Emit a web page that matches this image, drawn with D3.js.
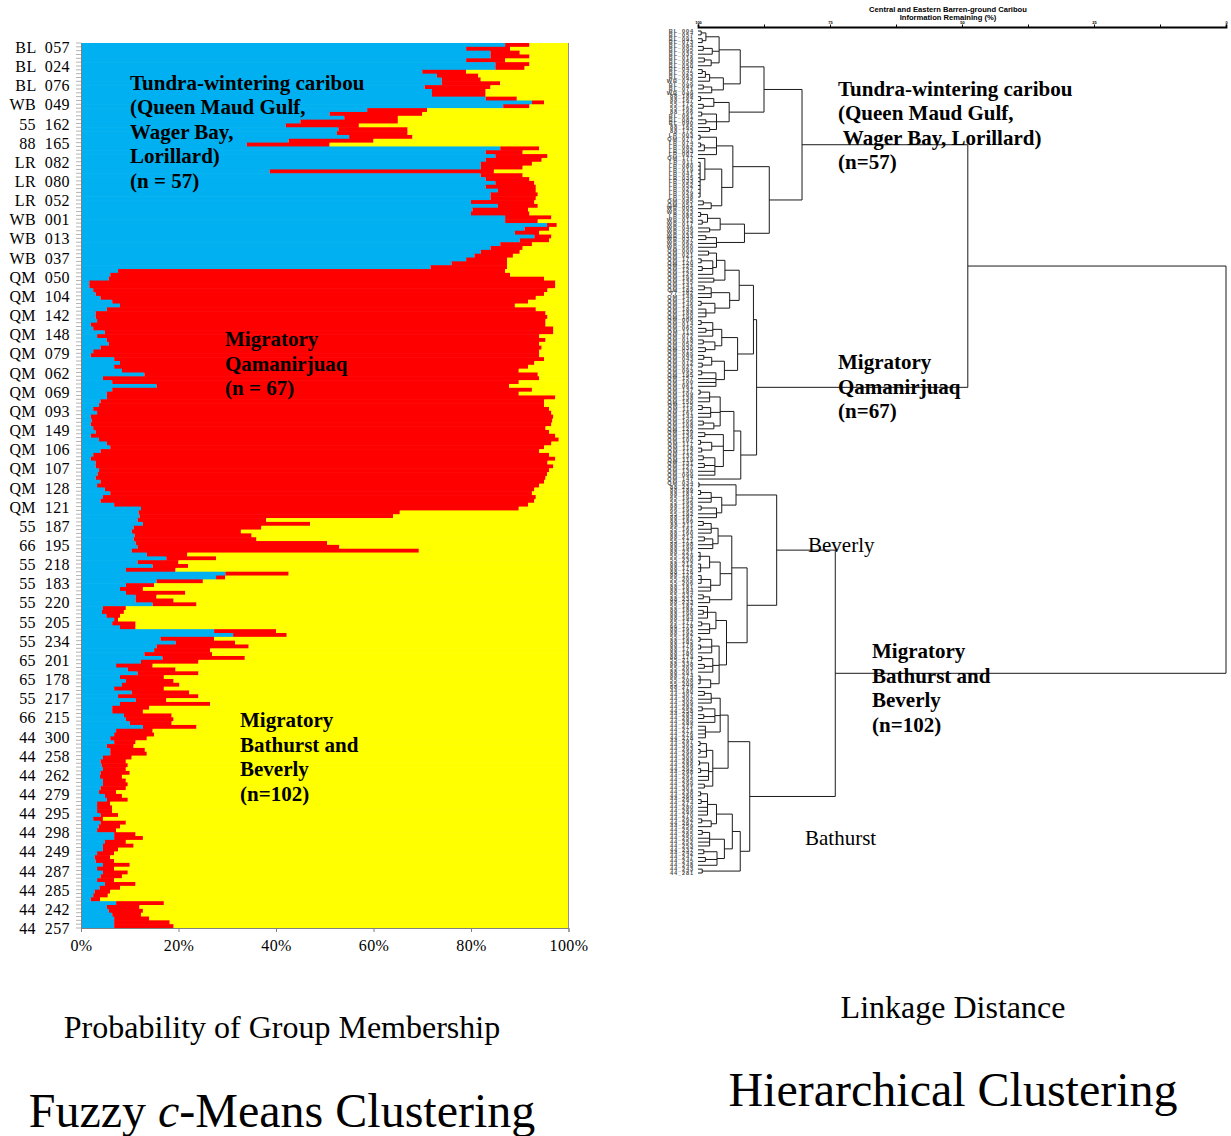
<!DOCTYPE html>
<html><head><meta charset="utf-8">
<script src="https://cdn.jsdelivr.net/npm/d3@7"></script>
<style>body{margin:0;background:#fff;}svg{display:block;}text{white-space:pre;}</style>
</head><body>
<svg id="c" width="1231" height="1136"></svg>
<script>
// ---------------- DATA: fuzzy c-means membership (cumulative boundaries, %) ----------------
const rowLabels = ["BL  057","BL  024","BL  076","WB  049","55  162","88  165","LR  082","LR  080","LR  052","WB  001","WB  013","WB  037",
 "QM  050","QM  104","QM  142","QM  148","QM  079","QM  062","QM  069","QM  093","QM  149","QM  106","QM  107","QM  128","QM  121",
 "55  187","66  195","55  218","55  183","55  220","55  205","55  234","65  201","65  178","55  217","66  215",
 "44  300","44  258","44  262","44  279","44  295","44  298","44  249","44  287","44  285","44  242","44  257"];
const labelEvery = 5;
const xTicks = [0,20,40,60,80,100];
const groupKeys = ["tundra","qamanirjuaq","bathurstBeverly"];
const groupColors = ["#00b0f0","#ff0000","#ffff00"];
// end of blue segment (tundra-wintering membership)
const blueTo = [
 87,79,84,84,79,85,85, 70,73,74,74,70.5,72,72,83,92.5,86.6,
 58.7,51,54,45,42,52.8,52.5,55,42.6,34,
 86,83,85,83,82,82,38.7,82,83,85,83,85.5,84,84,80,85.5,80.3,80,87,87,95.6,91,89,93,90,86,84,82,80.7,79,76,71.7,
 7.6,6,5.7,1.7,1.7,2.5,3,4,6.4,8, 5.3,3,3,3.3,2,2.5,4.9,3.3,5.3,5.7, 4,
 2.5,2,6.8,8,6.8,8.4,13,4.5,6.4,15.5, 6.4,5.3,5.3,4,3.7,2.5,3.3,2, 2.2,
 2,2.5,3,2,3.7,5.3,6,4,2.5,2,3,3,3.7, 3.4, 3,4,3.3,4.9,6,4.5,4,6.8,12.3,11.8,
 12,11.6,12.7,10.8,10.4,11,10.8,11.2,11.6,10.4, 13.5,17.5,11.6,14.7,9.2,29.6,27.7,15.5,9.2,8,
 9.2,11.2,11.2,14.7,4.5,4.3,5.2,6.8,6.4,8, 27.3,31.2,16.3,19.4,15.5,15,13,16.7,12.3,7.2,
 9.6,11.6,8,9.2,8.4,6.8,10.4,7.6,11.2,8, 6.4,6.4,8.8,9.2,10,
 12.7,7.2,6.8,6,6.8,5.3,6,6,4.5,4, 4.2, 4.5,4,3.9,4.5,4.5,4,3.7,4.9,5.3,3.3,3.3,3.3,4,2.5,4, 3.6,
 3.3,6.8,6.8,4.9,4.5,4.5,3.3,2.8,3,4.5,3.3,4.5,4,3.3,4.9, 3.8, 2.8,2.5,2,7.2,5.3,5.7,6.4,6.8,6.8,6.8];
// end of red segment (tundra + Qamanirjuaq membership)
const redTo = [
 92,88,90,92,87,92,91, 79,81.5,82,86,84,83,83,89.4,95,92,
 71,70,65,65,57,67,67,68,60,51,
 94,90.6,95.7,94.5,92.5,90.6,84.7,90.6,92,93,93.3,93.3,93.7,93.3,93,93.7,91.7,92,96.5,93.7,97.6,96,94,96.5,96,92.5,90.6,90,88.6,87.4,87.4,87.4,
 87,88,95,97.3,97.3,95.7,95,93.3,91.7,89, 93.3,95.3,95.7,95.3,95.3,96.9,96.9,94,95.3,94, 94.5,
 94,94,95,93,91.7,89.8,93.7,94,89.8,87.8, 92.5,89.8,97.3,95,95,96,96.5,96.9, 96.7,
 96.5,95.3,96,97.3,98,96.5,95,94,96,97.3,95.7,96.9,96, 95.6, 95.3,95,94,93,92.5,93.3,93,91.7,89.8,65.4,
 64,38,47,37,32.8,35,36,50.5,53,69.3, 21.8,27.7,20,22,19.4,42.6,29.6,25,15,12.7,
 21.4,15.5,19,23.7,9.2,8.8,8,7.6,11.2,11.2, 40,42.2,27.3,31.6,34.4,26.5,26.9,33.6,24.1,14.7,
 19.4,24.1,17,19,20.2,17,22.2,24.1,17.5,26.5, 14,12.7,18.6,19,18.6,
 23.7,14.7,15,13.5,11.2,10.8,13.1,13.5,10.4,9.2, 9.6, 9.2,10,8.4,9.2,9.6,9.2,7.2,8.4,9.6,6,6.4,6.4,7.6,4.5,9.2, 8,
 7.2,11.2,12.7,9.2,10.8,7.6,6.8,6,6.8,10,6.8,9.6,8.4,6.8,11.2, 8, 6,5.5,3.9,17,12,12.7,12.3,14,18.2,19];

// ---------------- DATA: dendrogram (node = [information remaining %, ...children], leaf = label) ----------------
const blGroup = [92,
  [96,[98.5,[99.4,"BL_004","BL_057"],[99.2,"BL_091","BL_073"]],[97.3,[99,"BL_084","BL_095"],"BL_035"],[97.5,[98.8,"BL_016","BL_058"],"BL_050"]],
  [95.2,[97.8,[98.6,[99.2,"BL_047","BL_025"],"BL_063"],"WB_075"],[97.4,[99,"BL_099","BL_071"],"WB_049"]]];
const g88Group = [94.1,[97,[99.5,"88_189","88_167"],[99,"55_172","55_162"]],[96.5,[99.3,"88_166","BL_061"],[98.5,"BL_087","BL_090"],[97.8,"88_165","88_172"]]];
const lrGroup = [93.4,[96.5,[99.6,"LR_003","QM_077"],[98.8,[99.5,"LR_074","LR_082"],"LR_093"],"LR_007"],
  [95.5,[98.7,"QM_177",[99.6,"LR_011","LR_080","LR_019","LR_041","LR_035","LR_033","LR_052","LR_027","LR_029","LR_048"]],[97.5,[99,"QM_085","QM_051"],"WB_005"]]];
const wbGroup = [91.2,[95.8,[98.2,[99.5,"WB_023","LR_085"],[99.2,"WB_013","WB_017"]],[97.8,"WB_046","WB_029"]],[96.5,[98.5,"WB_033","WB_037"],"WB_062","WB_060"]];
const qmUpper1 = [92.2,[94.9,[96.5,[98,"QM_000","QM_021"],[97.2,[99.4,"QM_171","QM_120"],[99.2,"QM_124","QM_125"],"QM_129"]],[97,"QM_193","QM_135"]],
  [94,[97.5,[98.8,"QM_141","QM_182"],"77_182","QM_148"],[96.8,[99.4,"QM_140","QM_146"],[98.5,"QM_183","QM_188","QM_190"]]]];
const qmUpper2 = [92.5,[95.5,[97.2,[99.4,"QM_006","QM_014"],[98.5,"QM_065","QM_113"],"QM_072"],[96.8,[99,"QM_018","QM_052"],[98.6,"QM_030","QM_015"]]],
  [95,[97.4,[98.9,"QM_089","QM_043"],[99.2,"QM_012","QM_027"]],[96.6,[99.3,"QM_093","QM_195"],"QM_157","QM_100","QM_061"]]];
const qmLower = [91.9,[93.2,[95.8,[97.8,[99.6,"QM_137","QM_109"],"QM_138","QM_150"],[97.6,[99.2,"QM_115","QM_116"],"QM_161","QM_144"],[97,[99,"QM_106","QM_108"],"QM_122"]],
  [95.2,[98.7,"QM_139","QM_136"],[97.4,[99.5,"QM_107","QM_117"],[99.3,"QM_118","QM_112"]],[96.8,[99,"QM_132","QM_119"],[98.8,"QM_131","QM_127"],"QM_130","QM_099"]]],"QM_147"];
const bevTop = [92.8,[99.8,"QM_034","88_237"],[95.5,[97.5,[99.5,"88_189","88_187"],"65_194","55_196"],[96.5,[99.4,"88_193","66_195"],"55_192","88_197"]]];
const bevB1 = [93.6,[96.2,[97.5,[99,"88_186","88_211"],"55_161","88_160"],[97.2,[98.8,"88_214","55_171"],"88_198","88_199"]],
  [95.8,[97.8,[99.6,"88_221","55_229","55_230"],[99.5,"88_212","88_175","88_176"]],[97.6,[99.4,"88_122","55_205","55_206"],"88_181","88_184"]],[97.8,[99,"55_232","88_231"],"88_233"]];
const bevB2 = [94.6,[96.6,[98.2,"55_187",[99,"88_188","88_190"],"88_194"],[97.8,[99.3,"65_177","66_178"],"88_191","88_192"]],
  [96,[97.4,[99.6,"55_167","88_185"],[99.5,"88_178","88_179"],"88_180"],[97.2,[99.3,"88_174","55_217"],[98.8,"88_338","55_203"],"88_201"],[97.6,[99.6,"88_274","55_208","55_209"],"88_279"]]];
const bathTop = [94.3,[95.8,[97.5,[98.8,"44_180","44_307"],"44_302","44_309"],[96.8,[99.2,"44_282","44_258"],[98.9,"44_283","44_284"],"44_289"],[98.6,"44_272","44_271","44_276","44_278"]],
  [97.2,[98.4,[99.6,"44_297","44_303"],[99.6,"44_293","44_296"],"44_300"],[98,[99.7,"44_288","44_286"],[99.5,"44_292","44_298"],"44_291","44_295"],[98.8,"44_299","44_301"]]];
const bathBottom = [92,[93.5,[96.5,[98.2,[99.5,"44_238","44_260"],[99.4,"44_264","44_274"],"44_280","44_269","44_270"],[97.5,[99.3,"44_262","44_267"],"44_259"]],
  [95,[97.8,[99.2,"44_255","44_265"],"44_250","44_252","44_253"],[96.4,[98.9,"44_237","44_242"],[98.6,"44_247","44_245"],"44_248"]]],[99.2,"44_243","44_281"]];
const dendroTree = [0,
  [48.9, [80.3,[87.5,blGroup,g88Group],[86.5,lrGroup,wbGroup]], [88.9,[89.5,qmUpper1,qmUpper2],qmLower]],
  [74, [85.1,bevTop,[90.7,bevB1,bevB2]], [90.2,bathTop,bathBottom]]];
const dendroTicks = [100,87.5,75,62.5,50,37.5,25,12.5,0];

// ---------------- LEFT: stacked bars ----------------
const svg = d3.select("#c");
const serif = "'Liberation Serif','Times New Roman',serif";
const sans = "'Liberation Sans',Arial,sans-serif";
const x = d3.scaleLinear().domain([0,100]).range([81,568.5]);
const rowIdx = d3.range(blueTo.length);
const y = d3.scaleBand().domain(rowIdx).range([43,928]);
const rows = rowIdx.map(i => ({tundra:blueTo[i], qamanirjuaq:redTo[i]-blueTo[i], bathurstBeverly:100-redTo[i]}));
const series = d3.stack().keys(groupKeys)(rows);
const color = d3.scaleOrdinal().domain(groupKeys).range(groupColors);
const segs = rowIdx.map(i => series.map(s => ({key:s.key, v0:s[i][0], v1:s[i][1], i})));
const bars = svg.append("g");
bars.selectAll("g").data(segs).join("g")
  .selectAll("rect").data(d => d).join("rect")
  .attr("x", d => x(d.v0)).attr("width", d => Math.max(0, x(d.v1) - x(d.v0)))
  .attr("y", d => y(d.i)).attr("height", y.bandwidth() + 0.6)
  .attr("fill", d => color(d.key));

// row tick marks (category ruler)
svg.append("g").selectAll("line").data(d3.range(blueTo.length + 1)).join("line")
  .attr("x1", 76).attr("x2", 81)
  .attr("y1", i => 43 + i * y.step()).attr("y2", i => 43 + i * y.step())
  .attr("stroke", "#a0a0a0").attr("stroke-width", 0.8);

// y labels
const labelRows = rowLabels.map((_, k) => k * labelEvery);
const yAxis = svg.append("g").attr("transform", "translate(81,0)")
  .call(d3.axisLeft(y).tickValues(labelRows).tickFormat(i => rowLabels[i / labelEvery]).tickSize(0).tickPadding(11));
yAxis.select(".domain").attr("stroke", "#808080");
yAxis.selectAll("text").attr("font-family", serif).attr("font-size", 16).attr("fill", "#000")
  .attr("letter-spacing", 0.4).attr("dy", "0.5em");
// right border
svg.append("line").attr("x1", 568.5).attr("x2", 568.5).attr("y1", 43).attr("y2", 928).attr("stroke", "#909090");
// x axis
const xAxis = svg.append("g").attr("transform", "translate(0,928)")
  .call(d3.axisBottom(x).tickValues(xTicks).tickFormat(d => d + "%").tickSize(4).tickPadding(8));
xAxis.select(".domain").attr("stroke", "#808080");
xAxis.selectAll("line").attr("stroke", "#808080");
xAxis.selectAll("text").attr("font-family", serif).attr("font-size", 16).attr("fill", "#000").attr("letter-spacing", 0.4);

// annotations helper
function block(lines, x0, y0, size, bold, dy) {
  const t = svg.append("text").attr("font-family", serif).attr("font-size", size)
    .attr("font-weight", bold ? "bold" : "normal").attr("fill", "#000");
  lines.forEach((l, k) => t.append("tspan").attr("x", x0).attr("y", y0 + k * dy).text(l));
}
block(["Tundra-wintering caribou","(Queen Maud Gulf,","Wager Bay,","Lorillard)","(n = 57)"], 130, 89.5, 21, true, 24.5);
block(["Migratory","Qamanirjuaq","(n = 67)"], 225, 346, 21, true, 24.5);
block(["Migratory","Bathurst and","Beverly","(n=102)"], 240, 727, 21, true, 24.5);

svg.append("text").attr("x", 282).attr("y", 1038).attr("text-anchor", "middle")
  .attr("font-family", serif).attr("font-size", 32).text("Probability of Group Membership");
const ft = svg.append("text").attr("x", 282).attr("y", 1127).attr("text-anchor", "middle")
  .attr("font-family", serif).attr("font-size", 48);
ft.append("tspan").text("Fuzzy ");
ft.append("tspan").attr("font-style", "italic").text("c");
ft.append("tspan").text("-Means Clustering");

// ---------------- RIGHT: dendrogram ----------------
const xs = d3.scaleLinear().domain([100, 0]).range([698, 1226]);
const root = d3.hierarchy(dendroTree, d => Array.isArray(d) ? d.slice(1) : null);
const leaves = root.leaves();
const yl = d3.scaleLinear().domain([0, leaves.length - 1]).range([31, 873]);
leaves.forEach((l, i) => { l.py = yl(i); });
root.eachAfter(n => {
  n.h = Array.isArray(n.data) ? n.data[0] : 100;
  if (n.children) n.py = (n.children[0].py + n.children[n.children.length - 1].py) / 2;
});
const dg = svg.append("g").attr("stroke", "#1a1a1a").attr("stroke-width", 1).attr("fill", "none");
const internals = root.descendants().filter(n => n.children);
dg.selectAll("line.v").data(internals).join("line").attr("class", "v")
  .attr("x1", n => xs(n.h)).attr("x2", n => xs(n.h))
  .attr("y1", n => n.children[0].py).attr("y2", n => n.children[n.children.length - 1].py);
dg.selectAll("line.h").data(root.descendants().filter(n => n.parent)).join("line").attr("class", "h")
  .attr("x1", n => xs(n.h)).attr("x2", n => xs(n.parent.h))
  .attr("y1", n => n.py).attr("y2", n => n.py);
svg.append("g").selectAll("text").data(leaves).join("text")
  .attr("x", 694).attr("y", n => n.py + 1.8).attr("text-anchor", "end")
  .attr("font-family", sans).attr("font-weight", "bold")
  .attr("font-size", 5.6).attr("letter-spacing", 0.9).attr("fill", "#4a4a4a").text(n => n.data);

// top axis
const ta = svg.append("g").attr("transform", "translate(0,27)")
  .call(d3.axisTop(xs).tickValues(dendroTicks).tickFormat(d => d % 25 === 0 ? d : "").tickSize(2.5).tickPadding(0.5));
ta.select(".domain").attr("stroke-width", 1.8).attr("stroke", "#000");
ta.selectAll("text").attr("font-family", sans).attr("font-size", 4).attr("font-weight", "bold");
svg.append("text").attr("x", 948).attr("y", 11.5).attr("text-anchor", "middle")
  .attr("font-family", sans).attr("font-weight", "bold").attr("font-size", 7.6)
  .text("Central and Eastern Barren-ground Caribou");
svg.append("text").attr("x", 948).attr("y", 19.5).attr("text-anchor", "middle")
  .attr("font-family", sans).attr("font-weight", "bold").attr("font-size", 7.6)
  .text("Information Remaining (%)");

// right annotations
block(["Tundra-wintering caribou","(Queen Maud Gulf,"," Wager Bay, Lorillard)","(n=57)"], 838, 95.5, 21, true, 24.5);
block(["Migratory","Qamanirjuaq","(n=67)"], 838, 369, 21, true, 24.5);
block(["Migratory","Bathurst and","Beverly","(n=102)"], 872, 658, 21, true, 24.5);
block(["Beverly"], 808, 552, 21, false, 0);
block(["Bathurst"], 805, 845, 21, false, 0);

svg.append("text").attr("x", 953).attr("y", 1018).attr("text-anchor", "middle")
  .attr("font-family", serif).attr("font-size", 32).text("Linkage Distance");
svg.append("text").attr("x", 953).attr("y", 1106).attr("text-anchor", "middle")
  .attr("font-family", serif).attr("font-size", 48).text("Hierarchical Clustering");
</script>
</body></html>
